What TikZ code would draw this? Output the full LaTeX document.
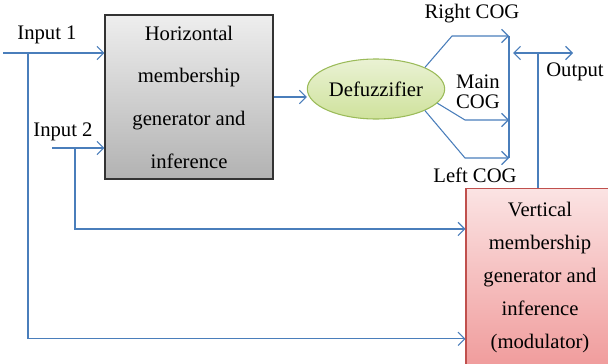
\documentclass[tikz,border=0pt]{standalone}
\usepackage{fontspec}
\setmainfont{Liberation Serif}
\usetikzlibrary{positioning,arrows.meta,shapes.geometric}

\definecolor{lineblue}{HTML}{4A7EBB}
\definecolor{hedge}{HTML}{333333}
\definecolor{htop}{HTML}{EEEEEE}
\definecolor{hbot}{HTML}{B2B2B2}
\definecolor{dedge}{HTML}{9BBB59}
\definecolor{dtop}{HTML}{EAF2D4}
\definecolor{dbot}{HTML}{CFE29C}
\definecolor{vedge}{HTML}{C0504D}
\definecolor{vtop}{HTML}{FBE3E3}
\definecolor{vbot}{HTML}{F09C9C}

\begin{document}
\begin{tikzpicture}[x=0.75pt, y=-0.75pt,
  font=\fontsize{15.5}{18}\selectfont,
  every node/.style={align=center},
  conn/.style={-{Straight Barb[length=5pt,width=10pt]}, lineblue, line width=0.8pt},
  wire/.style={lineblue, line width=0.8pt},
  hbox/.style={draw=hedge, line width=0.9pt, top color=htop, bottom color=hbot, minimum width=126pt, minimum height=123pt, font=\fontsize{15.5}{32}\selectfont},
  defz/.style={ellipse, draw=dedge, line width=0.8pt, top color=dtop, bottom color=dbot, minimum width=103pt, minimum height=45pt, inner sep=0pt},
  vbox/.style={draw=vedge, line width=0.8pt, top color=vtop, bottom color=vbot, minimum width=111pt, minimum height=133pt, font=\fontsize{15.5}{24.75}\selectfont},
  lbl/.style={inner sep=1pt}
]
\useasboundingbox (0,0) rectangle (608,364);
\clip (0,0) rectangle (608,364);

% blocks
\node[hbox] (horiz) at (189,97) {Horizontal\\membership\\generator and\\inference};
\node[defz] (defuzz) at (376,89) {Defuzzifier};
\node[vbox] (vert) at (540,277.5) {Vertical\\membership\\generator and\\inference\\(modulator)};

% inputs
\coordinate (in1) at (3,53);
\coordinate (in2) at (52,148);
\coordinate (br1) at (28,53);
\coordinate (br2) at (75,148);
\node[lbl] (in1lbl) at (47,35) {Input 1};
\node[lbl] (in2lbl) at (63,132) {Input 2};

\draw[conn] (in1) -- (in1 -| horiz.west);
\draw[conn] (in2) -- (in2 -| horiz.west);
\draw[conn] (br1) |- ([yshift=-46pt]vert.west);
\draw[conn] (br2) |- ([yshift=36.4pt]vert.west);
\draw[conn] (horiz.east) -- (horiz.east -| defuzz.west);

% COG outputs
\coordinate (rcog) at (452,36);
\coordinate (mcog) at (465,120);
\coordinate (lcog) at (465,158);
\coordinate (bartop) at (509,36);
\coordinate (barbot) at (509,158);
\draw[conn] (defuzz.north east) -- (rcog) -- (rcog -| bartop);
\draw[conn] (defuzz.-13) -- (mcog) -- (mcog -| bartop);
\draw[conn] (defuzz.south east) -- (lcog) -- (lcog -| bartop);
\draw[wire] (bartop) -- (barbot);

\node[lbl] (rlbl) at (472,14) {Right COG};
\node[lbl, font=\fontsize{15.5}{15}\selectfont] (mlbl) at (478,92) {Main\\COG};
\node[lbl] (llbl) at (475,175) {Left COG};

% output
\coordinate (outl) at (513,53);
\coordinate (outr) at (573,53);
\coordinate (outj) at (538,53);
\draw[wire, {Straight Barb[length=5pt,width=10pt]}-{Straight Barb[length=5pt,width=10pt]}] (outl) -- (outr);
\draw[wire] (outj) -- (outj |- vert.north);
\node[lbl] (outlbl) at (575,72) {Output};
\end{tikzpicture}
\end{document}
